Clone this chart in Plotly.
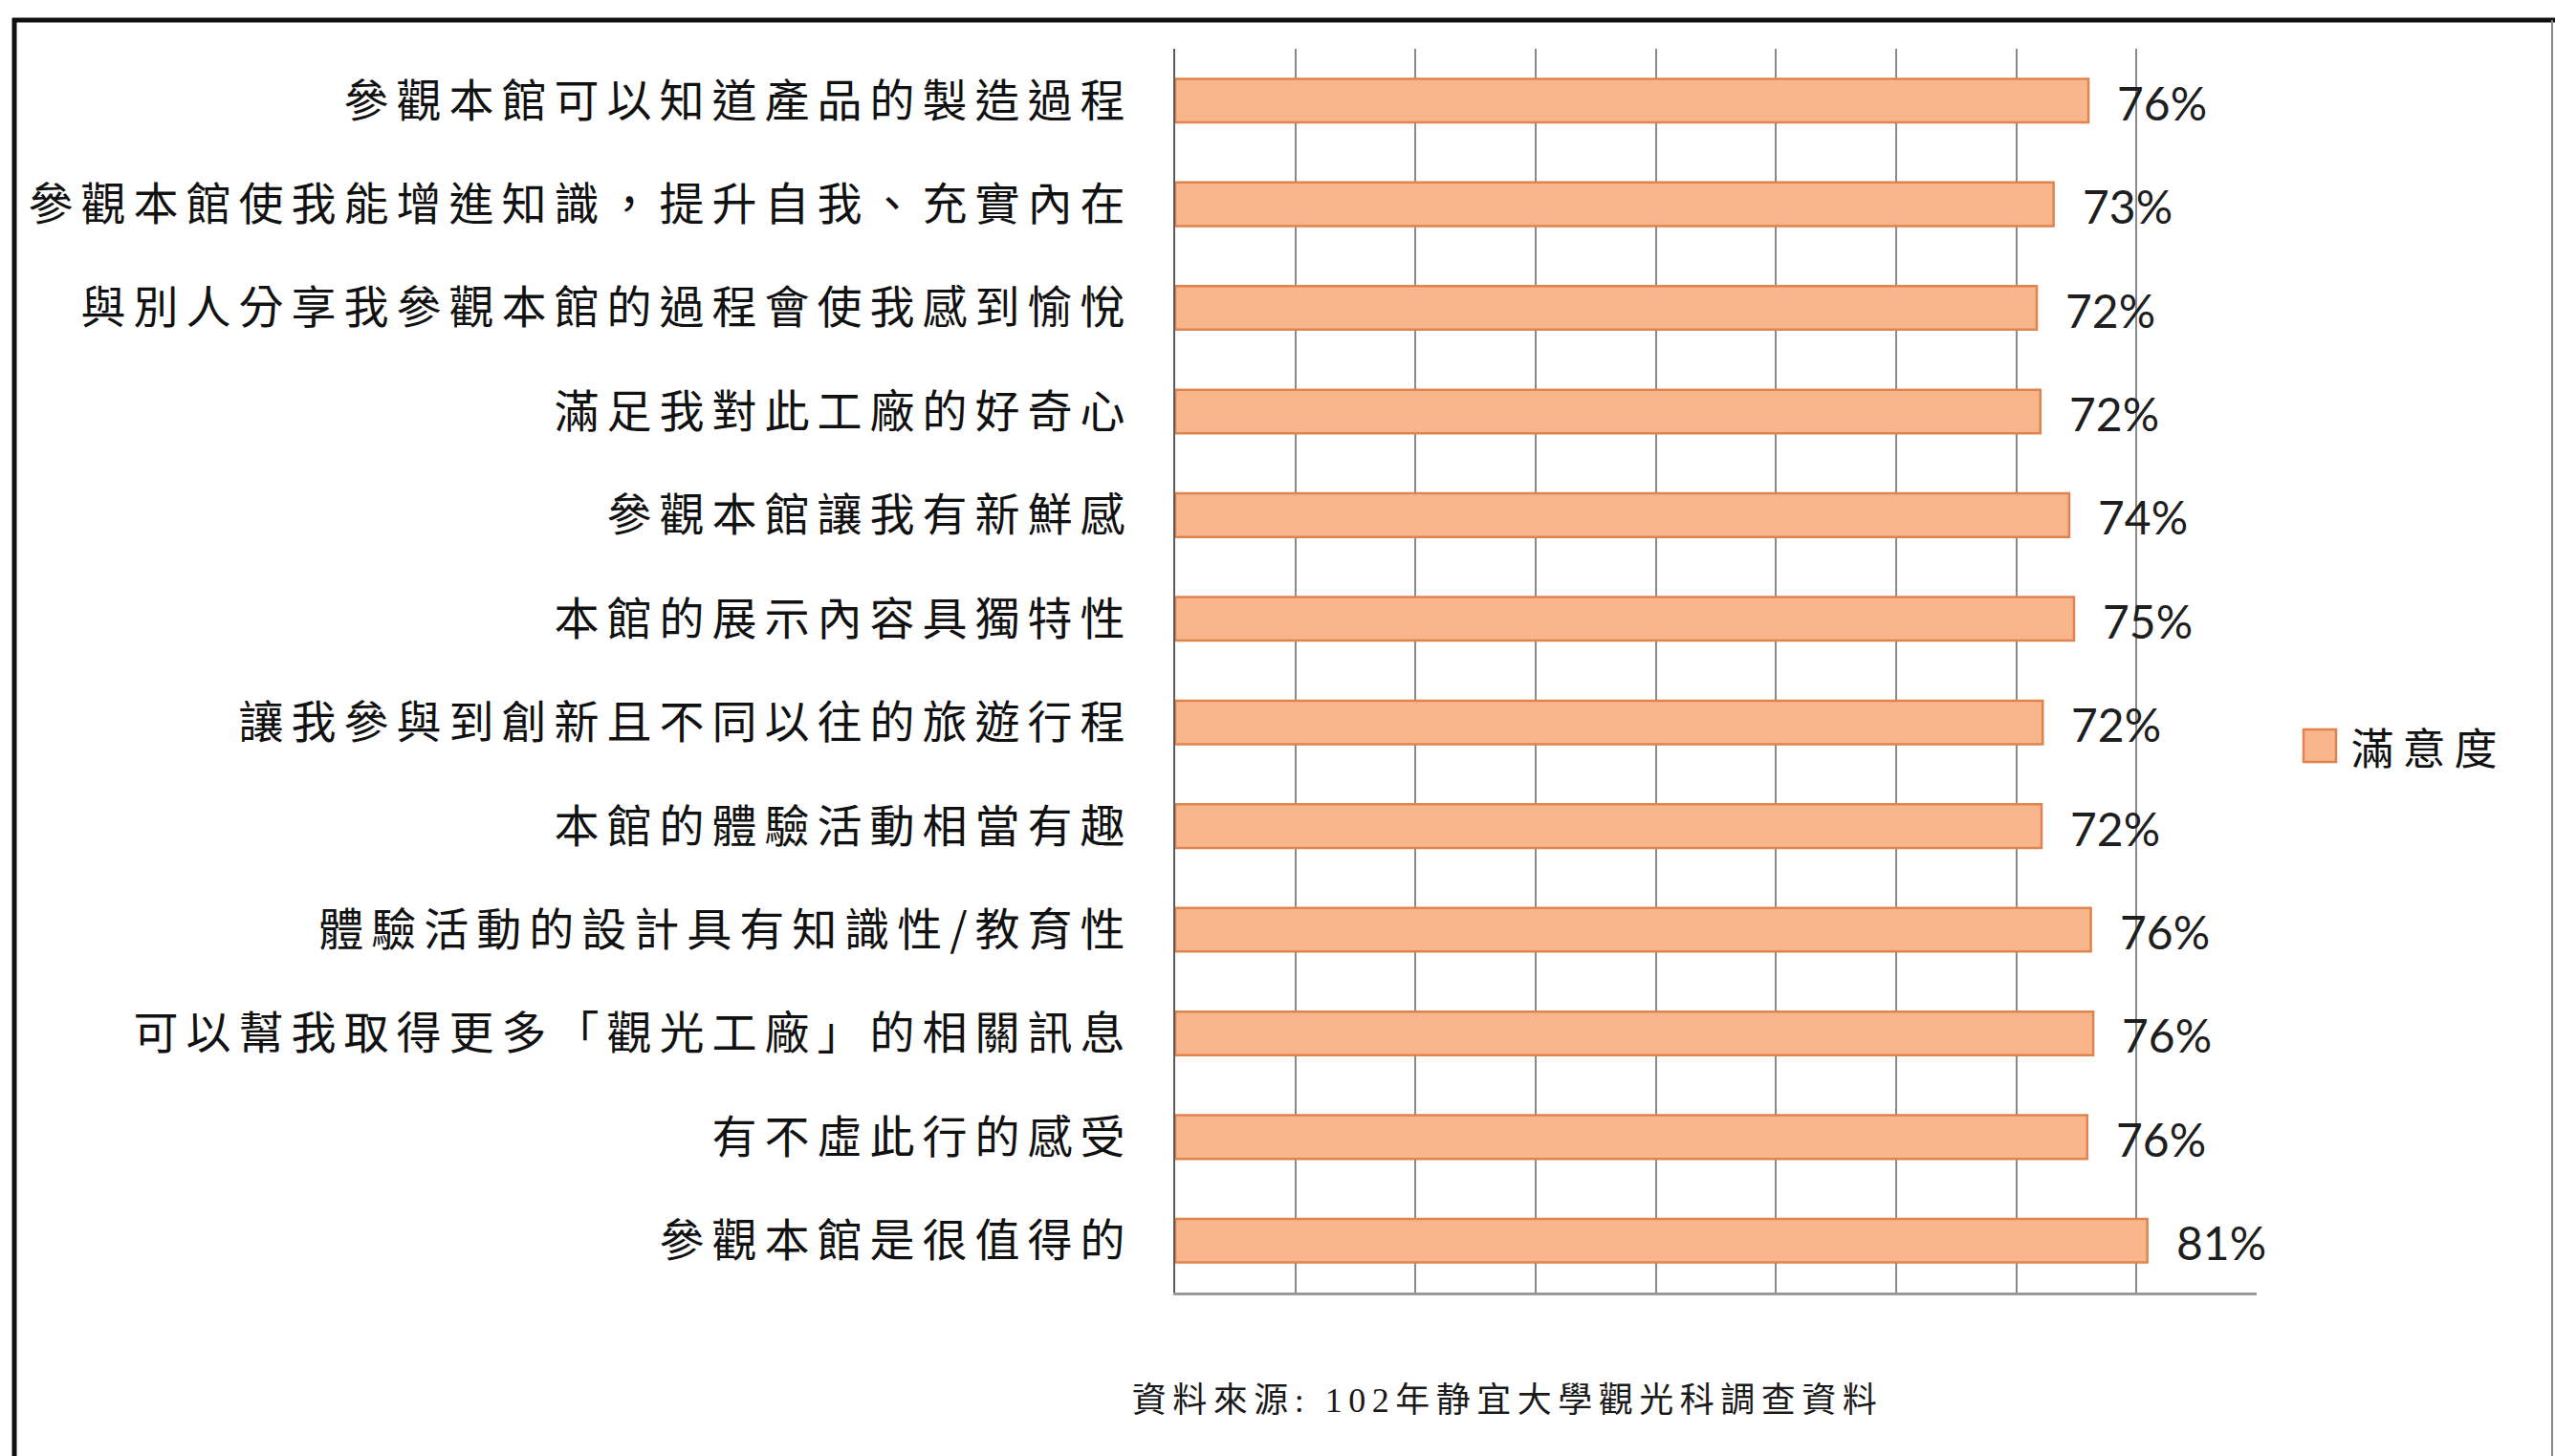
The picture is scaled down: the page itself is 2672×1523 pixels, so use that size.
import plotly.graph_objects as go

# ---- data ----
categories = [
    "參觀本館可以知道產品的製造過程",
    "參觀本館使我能增進知識，提升自我、充實內在",
    "與別人分享我參觀本館的過程會使我感到愉悅",
    "滿足我對此工廠的好奇心",
    "參觀本館讓我有新鮮感",
    "本館的展示內容具獨特性",
    "讓我參與到創新且不同以往的旅遊行程",
    "本館的體驗活動相當有趣",
    "體驗活動的設計具有知識性/教育性",
    "可以幫我取得更多「觀光工廠」的相關訊息",
    "有不虛此行的感受",
    "參觀本館是很值得的",
]
satisfaction = [0.760, 0.731, 0.717, 0.720, 0.744, 0.748, 0.722, 0.721, 0.762, 0.764, 0.759, 0.809]
series_name = "滿意度"
source_text = "資料來源: 102年静宜大學觀光科調查資料"
x_ticks = [0, 0.1, 0.2, 0.3, 0.4, 0.5, 0.6, 0.7, 0.8, 0.9]

# ---- layout geometry (px) ----
W, H = 2672, 1523
L, R, T, B = 1229, 2360, 51, 1352
PW, PH = R - L, B - T


def px_x(px):
    return (px - L) / PW


def px_y(py):
    return (B - py) / PH


CJK = "Noto Sans CJK TC"
BAR_FILL = "#F9B68D"
BAR_LINE = "#E0844E"

fig = go.Figure()
fig.add_trace(go.Bar(
    x=satisfaction,
    y=categories,
    orientation="h",
    name=series_name,
    marker=dict(color=BAR_FILL, line=dict(color=BAR_LINE, width=2.5)),
    showlegend=False,
    hoverinfo="x+y",
))

annotations = []
for c, v in zip(categories, satisfaction):
    annotations.append(dict(
        x=v, y=c, xref="x", yref="y", text=f"{v:.0%}", showarrow=False,
        xanchor="left", yanchor="middle", xshift=28, yshift=-2,
        font=dict(family="Lato", size=48, color="#1e1e1e"),
    ))

# manual legend text + source note
annotations.append(dict(
    x=px_x(2470), y=px_y(781), xref="paper", yref="paper", text=series_name,
    showarrow=False, xanchor="left", yanchor="middle",
    font=dict(family=CJK, size=45, color="#111111"),
))
annotations.append(dict(
    x=px_x(1576), y=px_y(1465), xref="paper", yref="paper", text=source_text,
    showarrow=False, xanchor="center", yanchor="middle",
    font=dict(family="Liberation Serif, " + CJK, size=36, color="#1a1a1a"),
))

shapes = [
    # legend swatch
    dict(type="rect", xref="paper", yref="paper",
         x0=px_x(2409), x1=px_x(2443), y0=px_y(763), y1=px_y(797),
         fillcolor=BAR_FILL, line=dict(color=BAR_LINE, width=2.5)),
    # outer frame
    dict(type="line", xref="paper", yref="paper",
         x0=px_x(13), x1=px_x(W), y0=px_y(21), y1=px_y(21),
         line=dict(color="#111111", width=5)),
    dict(type="line", xref="paper", yref="paper",
         x0=px_x(15), x1=px_x(15), y0=px_y(19), y1=px_y(H + 5),
         line=dict(color="#111111", width=5)),
    dict(type="line", xref="paper", yref="paper",
         x0=px_x(2669), x1=px_x(2669), y0=px_y(21), y1=px_y(H + 5),
         line=dict(color="#888888", width=2)),
]

fig.update_layout(
    width=W, height=H,
    margin=dict(l=L, r=W - R, t=T, b=H - B, autoexpand=False),
    paper_bgcolor="white", plot_bgcolor="white",
    bargap=0.58,
    showlegend=False,
    annotations=annotations,
    shapes=shapes,
    xaxis=dict(
        range=[0, 0.9], tickvals=x_ticks, showticklabels=False,
        showgrid=True, gridcolor="#8a8a8a", gridwidth=1.6,
        zeroline=False, showline=True, linecolor="#9a9a9a", linewidth=3,
        mirror=False, ticks="", fixedrange=True,
    ),
    yaxis=dict(
        autorange="reversed", showgrid=False, zeroline=False,
        showline=True, linecolor="#5a5a5a", linewidth=2,
        ticks="", ticklabelstandoff=33,
        tickfont=dict(family=CJK, size=47, color="#111111"),
        fixedrange=True,
    ),
    font=dict(family=CJK),
)

post = """
document.documentElement.style.margin = '0';
document.body.style.margin = '0';
document.body.style.overflow = 'hidden';
var gd = document.getElementById('{plot_id}');
function spaceText(){
  gd.querySelectorAll('.ytick text').forEach(function(t){ t.setAttribute('letter-spacing', '8px'); });
  gd.querySelectorAll('.annotation-text').forEach(function(t){
    var s = t.textContent || '';
    if (s.indexOf('資料來源') === 0) { t.setAttribute('letter-spacing', '6.5px'); }
    else if (s.indexOf('%') < 0) { t.setAttribute('letter-spacing', '9px'); }
  });
}
spaceText();
gd.on('plotly_afterplot', spaceText);
"""

fig.write_html("out.html", post_script=post, config={"displayModeBar": False})
